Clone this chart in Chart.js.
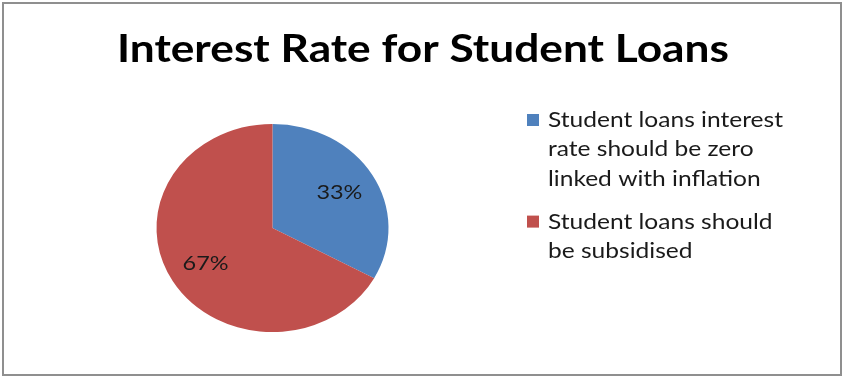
<!DOCTYPE html>
<html>
<head>
<meta charset="utf-8">
<script src="https://cdn.jsdelivr.net/npm/chart.js@4"></script>
<style>
  html, body { margin: 0; padding: 0; background: #fff; }
  canvas { display: block; }
</style>
</head>
<body>
<canvas id="chart" width="844" height="378"></canvas>
<script>
const titleText = 'Interest Rate for Student Loans'
const categories = [
    ['Student loans interest', 'rate should be zero', 'linked with inflation'],
    ['Student loans should', 'be subsidised']
]
const values = [33, 67]
const percentLabels = ['33%', '67%']
const colors = ['#4F81BD', '#C0504D']

const FONT = 'Lato, "Open Sans", sans-serif'
const SQUASH = 0.897 // the pie is drawn a little flatter than round

// Calibri is wider than Lato at the same cap height, so stretch text sideways a bit
function stretchedText(ctx, text, x, y, sx) {
    ctx.save()
    ctx.translate(x, y)
    ctx.scale(sx, 1)
    ctx.fillText(text, 0, 0)
    ctx.restore()
}

const ovalPie = {
    id: 'ovalPie',
    beforeDatasetsDraw(chart) {
        const arc = chart.getDatasetMeta(0).data[0]
        const ctx = chart.ctx
        ctx.save()
        ctx.translate(arc.x, arc.y)
        ctx.scale(1, SQUASH)
        ctx.translate(-arc.x, -arc.y)
    },
    afterDatasetsDraw(chart) {
        const ctx = chart.ctx
        ctx.restore()

        // percentage labels inside the slices
        const meta = chart.getDatasetMeta(0)
        ctx.save()
        ctx.fillStyle = '#1a1a1a'
        ctx.font = '19px ' + FONT
        ctx.textAlign = 'center'
        ctx.textBaseline = 'middle'
        const sx = 46 / ctx.measureText('33%').width
        meta.data.forEach((arc, i) => {
            const p = arc.getProps(['x', 'y', 'startAngle', 'endAngle', 'outerRadius'], true)
            const mid = (p.startAngle + p.endAngle) / 2
            const r = p.outerRadius * 0.67
            stretchedText(ctx, percentLabels[i], p.x + Math.cos(mid) * r, p.y + Math.sin(mid) * r * SQUASH, sx)
        })
        ctx.restore()
    },
    afterDraw(chart) {
        const ctx = chart.ctx
        ctx.save()
        // frame
        ctx.strokeStyle = '#8f8f8f'
        ctx.lineWidth = 2
        ctx.strokeRect(3, 3, 838, 372)

        // title
        ctx.fillStyle = '#000'
        ctx.font = 'bold 39px ' + FONT
        ctx.textAlign = 'center'
        ctx.textBaseline = 'alphabetic'
        stretchedText(ctx, titleText, 423, 62, 612 / ctx.measureText(titleText).width)

        // legend
        ctx.font = '21px ' + FONT
        ctx.textAlign = 'left'
        const sx = 235 / ctx.measureText(categories[0][0]).width
        let y = 127
        categories.forEach((lines, i) => {
            ctx.fillStyle = colors[i]
            ctx.fillRect(527, y - 13, 12, 12)
            ctx.fillStyle = '#1a1a1a'
            lines.forEach(line => {
                stretchedText(ctx, line, 548, y, sx)
                y += 29.3
            })
            y += 43 - 29.3
        })
        ctx.restore()
    }
}

new Chart(document.getElementById('chart'), {
    type: 'pie',
    data: {
        labels: categories,
        datasets: [{
            data: values,
            backgroundColor: colors,
            borderWidth: 0
        }]
    },
    options: {
        responsive: false,
        animation: false,
        layout: {
            padding: { left: 156, right: 455, top: 112, bottom: 34 }
        },
        plugins: {
            legend: { display: false },
            title: { display: false },
            tooltip: { enabled: false }
        }
    },
    plugins: [ovalPie]
})
</script>
</body>
</html>
